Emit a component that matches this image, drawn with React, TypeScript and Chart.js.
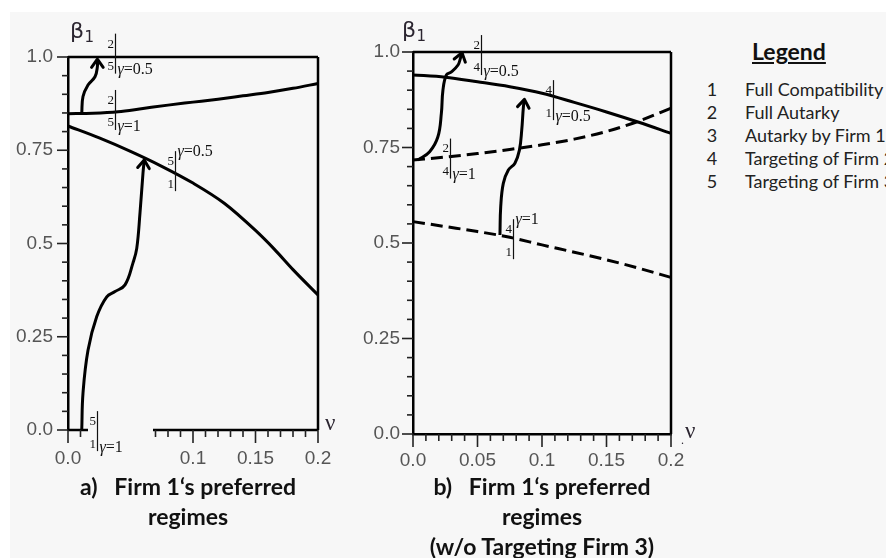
import React, { useEffect, useRef } from "react";
import { Chart, registerables } from "chart.js";

Chart.register(...registerables);

// ---------------- Panel a: Firm 1's preferred regimes ----------------
const nuUpperA = [0, 0.02, 0.04, 0.06, 0.08, 0.1, 0.12, 0.14, 0.16, 0.18, 0.2];
const betaUpperA = [0.848, 0.849, 0.853, 0.862, 0.871, 0.879, 0.887, 0.896, 0.905, 0.916, 0.929];
const nuLowerA = [0, 0.025, 0.05, 0.075, 0.1, 0.125, 0.15, 0.165, 0.18, 0.2];
const betaLowerA = [0.815, 0.783, 0.747, 0.707, 0.662, 0.608, 0.535, 0.485, 0.43, 0.362];
const nuArrowSmallA = [0.011, 0.012, 0.016, 0.0216, 0.0235, 0.0235];
const betaArrowSmallA = [0.849, 0.894, 0.925, 0.947, 0.974, 0.994];
const nuArrowBigA = [0.011, 0.012, 0.016, 0.023, 0.031, 0.0376, 0.0456, 0.052, 0.055, 0.0576, 0.06, 0.061];
const betaArrowBigA = [0, 0.099, 0.214, 0.304, 0.357, 0.371, 0.389, 0.448, 0.487, 0.582, 0.689, 0.724];
const nuAxisLeftA = [0, 0.016];
const nuAxisRightA = [0.068, 0.2];
const xGapA = [0.016, 0.068];

// ---------------- Panel b: w/o targeting firm 3 ----------------
const nuSolidB = [0, 0.025, 0.05, 0.075, 0.1, 0.125, 0.15, 0.175, 0.2];
const betaSolidB = [0.94, 0.934, 0.922, 0.909, 0.892, 0.868, 0.843, 0.816, 0.787];
const nuDashUpperB = [0, 0.025, 0.05, 0.075, 0.1, 0.125, 0.15, 0.175, 0.2];
const betaDashUpperB = [0.717, 0.725, 0.734, 0.745, 0.757, 0.772, 0.792, 0.819, 0.853];
const nuDashLowerB = [0, 0.025, 0.05, 0.075, 0.1, 0.125, 0.15, 0.175, 0.2];
const betaDashLowerB = [0.556, 0.543, 0.53, 0.515, 0.495, 0.476, 0.456, 0.434, 0.41];
const nuArrow1B = [0.0037, 0.0129, 0.0193, 0.022, 0.0232, 0.0259, 0.0298, 0.0349, 0.0368, 0.038];
const betaArrow1B = [0.717, 0.739, 0.778, 0.84, 0.9, 0.94, 0.948, 0.966, 0.984, 0.998];
const nuArrow2B = [0.0674, 0.068, 0.07, 0.0739, 0.079, 0.0825, 0.0843, 0.0856, 0.0864];
const betaArrow2B = [0.521, 0.595, 0.656, 0.691, 0.709, 0.743, 0.796, 0.857, 0.876];

// ---------------- frame ----------------
const nuFrameTop = [0, 0.2];
const betaFrameTop = [1, 1];
const nuFrameRight = [0.2, 0.2];
const betaFrameRight = [0, 1];

// ---------------- ticks ----------------
const xTickValuesA = [0, 0.1, 0.15, 0.2];
const xTickLabelsA = ["0.0", "0.1", "0.15", "0.2"];
const xTickValuesB = [0, 0.05, 0.1, 0.15, 0.2];
const xTickLabelsB = ["0.0", "0.05", "0.1", "0.15", "0.2"];
const xMajorValues = [0, 0.05, 0.1, 0.15, 0.2];
const yTickValues = [0, 0.25, 0.5, 0.75, 1];
const yTickLabels = ["0.0", "0.25", "0.5", "0.75", "1.0"];

// ---------------- regime boundary labels ----------------
type RegimeLabel = { nu: number; beta: number; top: string; bottom: string; gamma: string; pos: "sub" | "sup" };
const regimeLabelsA: RegimeLabel[] = [
  { nu: 0.0376, beta: 1.009, top: "2", bottom: "5", gamma: "0.5", pos: "sub" },
  { nu: 0.0376, beta: 0.858, top: "2", bottom: "5", gamma: "1", pos: "sub" },
  { nu: 0.0856, beta: 0.694, top: "5", bottom: "1", gamma: "0.5", pos: "sup" },
  { nu: 0.023, beta: -0.003, top: "5", bottom: "1", gamma: "1", pos: "sub" },
];
const regimeLabelsB: RegimeLabel[] = [
  { nu: 0.053, beta: 0.992, top: "2", bottom: "4", gamma: "0.5", pos: "sub" },
  { nu: 0.1085, beta: 0.874, top: "4", bottom: "1", gamma: "0.5", pos: "sub" },
  { nu: 0.029, beta: 0.721, top: "2", bottom: "4", gamma: "1", pos: "sub" },
  { nu: 0.0776, beta: 0.51, top: "4", bottom: "1", gamma: "1", pos: "sup" },
];

// ---------------- legend / titles ----------------
const legendTitle = "Legend";
const legendNumbers = ["1", "2", "3", "4", "5"];
const legendNames = ["Full Compatibility", "Full Autarky", "Autarky by Firm 1", "Targeting of Firm 2", "Targeting of Firm 3"];
const titleA = ["a)   Firm 1\u2018s preferred", "regimes"];
const titleB = ["b)   Firm 1\u2018s preferred", "regimes", "(w/o Targeting Firm 3)"];

function pts(xs: number[], ys: number[]) {
  return xs.map((x, i) => ({ x, y: ys[i] }));
}
function findLabel(v: number, vals: number[], labels: string[]) {
  const i = vals.findIndex((t) => Math.abs(t - v) < 1e-6);
  return i >= 0 ? labels[i] : "";
}
function line(data: any, extra: any = {}) {
  return {
    data,
    borderColor: "#000",
    borderWidth: 3,
    pointRadius: 0,
    fill: false,
    clip: false,
    tension: 0,
    ...extra,
  };
}

type OverlaySettings = {
  gap?: number[];
  labels: RegimeLabel[];
  beta: [number, number];
  nu: [number, number];
  dot?: [number, number];
};

function makeOverlay(s: OverlaySettings) {
  return {
    id: "overlay",
    afterDatasetsDraw(chart: any) {
      const ctx = chart.ctx;
      chart.data.datasets.forEach((ds: any, i: number) => {
        if (!ds.arrowHead) return;
        const p = chart.getDatasetMeta(i).data;
        const n = p.length;
        const tip = p[n - 1];
        const prev = p[n - 2];
        const ang = Math.atan2(tip.y - prev.y, tip.x - prev.x);
        const L = 10;
        const spread = 0.62;
        ctx.save();
        ctx.strokeStyle = "#000";
        ctx.lineWidth = 3;
        ctx.lineCap = "round";
        ctx.lineJoin = "round";
        ctx.beginPath();
        ctx.moveTo(tip.x - L * Math.cos(ang - spread), tip.y - L * Math.sin(ang - spread));
        ctx.lineTo(tip.x, tip.y);
        ctx.lineTo(tip.x - L * Math.cos(ang + spread), tip.y - L * Math.sin(ang + spread));
        ctx.stroke();
        ctx.restore();
      });
    },
    afterDraw(chart: any) {
      const ctx = chart.ctx;
      const area = chart.chartArea;
      const xs = chart.scales.x;
      const ys = chart.scales.y;
      ctx.save();
      // tick marks
      ctx.strokeStyle = "#222";
      ctx.lineWidth = 1.6;
      xs.ticks.forEach((t: any) => {
        const v = t.value;
        if (s.gap && v > s.gap[0] + 1e-9 && v < s.gap[1] - 1e-9) return;
        const major = xMajorValues.some((m) => Math.abs(m - v) < 1e-6);
        const px = xs.getPixelForValue(v);
        ctx.beginPath();
        ctx.moveTo(px, area.bottom);
        ctx.lineTo(px, area.bottom + (major ? 13 : 7));
        ctx.stroke();
      });
      ys.ticks.forEach((t: any) => {
        const v = t.value;
        const major = yTickValues.some((m) => Math.abs(m - v) < 1e-6);
        const py = ys.getPixelForValue(v);
        ctx.beginPath();
        ctx.moveTo(area.left, py);
        ctx.lineTo(area.left - (major ? 11 : 6), py);
        ctx.stroke();
      });
      // regime boundary labels
      s.labels.forEach((r) => {
        const x = Math.round(xs.getPixelForValue(r.nu)) + 0.5;
        const y = ys.getPixelForValue(r.beta);
        ctx.strokeStyle = "#111";
        ctx.lineWidth = 1.2;
        ctx.beginPath();
        ctx.moveTo(x, y - 20);
        ctx.lineTo(x, y + 20);
        ctx.stroke();
        ctx.fillStyle = "#111";
        ctx.font = "13px 'Liberation Serif'";
        ctx.textAlign = "right";
        ctx.textBaseline = "middle";
        ctx.fillText(r.top, x - 1.5, y - 9.5);
        ctx.fillText(r.bottom, x - 1.5, y + 13);
        const gy = r.pos === "sub" ? y + 16.5 : y - 19;
        ctx.textAlign = "left";
        ctx.font = "italic 16px 'Liberation Serif'";
        ctx.fillText("\u03b3", x + 2, gy);
        const w = ctx.measureText("\u03b3").width;
        ctx.font = "16px 'Liberation Serif'";
        ctx.fillText("=" + r.gamma, x + 2 + w, gy);
      });
      // axis titles
      ctx.fillStyle = "#2b2530";
      ctx.textAlign = "left";
      ctx.textBaseline = "alphabetic";
      ctx.font = "22px 'DejaVu Sans'";
      ctx.fillText("\u03b2", s.beta[0], s.beta[1]);
      const bw = ctx.measureText("\u03b2").width;
      ctx.font = "15px 'DejaVu Sans'";
      ctx.fillText("1", s.beta[0] + bw + 0.5, s.beta[1] + 4);
      ctx.font = "23px 'Liberation Serif'";
      ctx.fillText("\u03bd", s.nu[0], s.nu[1]);
      if (s.dot) {
        ctx.font = "12px 'Liberation Serif'";
        ctx.fillText(".", s.dot[0], s.dot[1]);
      }
      ctx.restore();
    },
  };
}

function makeConfig(p: any) {
  return {
    type: "line",
    data: { datasets: p.datasets },
    plugins: [makeOverlay(p.overlay)],
    options: {
      animation: false,
      responsive: false,
      events: [],
      layout: { padding: p.padding },
      plugins: { legend: { display: false }, tooltip: { enabled: false }, title: { display: false } },
      scales: {
        x: {
          type: "linear",
          min: 0,
          max: 0.2,
          position: "bottom",
          grid: { display: false, drawTicks: false },
          border: { display: p.xBorder, color: "#000", width: 2.5 },
          ticks: {
            stepSize: 0.01,
            autoSkip: false,
            maxRotation: 0,
            minRotation: 0,
            padding: p.xPad,
            color: "#555",
            font: { family: "'Liberation Sans'", size: 19 },
            callback: (v: number) => findLabel(v, p.xVals, p.xLabels),
          },
          afterFit: (sc: any) => {
            sc.height = 40;
          },
        },
        y: {
          type: "linear",
          min: 0,
          max: 1,
          position: "left",
          grid: { display: false, drawTicks: false },
          border: { display: true, color: "#000", width: 2.5 },
          ticks: {
            stepSize: 0.05,
            autoSkip: false,
            padding: p.yPad,
            color: "#555",
            font: { family: "'Liberation Sans'", size: 19 },
            callback: (v: number) => findLabel(v, yTickValues, yTickLabels),
          },
          afterFit: (sc: any) => {
            sc.width = p.yWidth;
          },
        },
      },
    },
  };
}

const dash = [12, 6];

export default function App() {
  const refA = useRef<HTMLCanvasElement>(null);
  const refB = useRef<HTMLCanvasElement>(null);

  useEffect(() => {
    const cfgA = makeConfig({
      datasets: [
        line(pts(nuUpperA, betaUpperA), { cubicInterpolationMode: "monotone" }),
        line(pts(nuLowerA, betaLowerA), { cubicInterpolationMode: "monotone" }),
        line(pts(nuArrowSmallA, betaArrowSmallA), { tension: 0.4, arrowHead: true }),
        line(pts(nuArrowBigA, betaArrowBigA), { tension: 0.4, arrowHead: true }),
        line(pts(nuFrameTop, betaFrameTop), { borderWidth: 2.5 }),
        line(pts(nuFrameRight, betaFrameRight), { borderWidth: 2.5 }),
        line(pts(nuAxisLeftA, [0, 0]), { borderWidth: 2.5 }),
        line(pts(nuAxisRightA, [0, 0]), { borderWidth: 2.5 }),
      ],
      overlay: { gap: xGapA, labels: regimeLabelsA, beta: [70, 38], nu: [325, 430] },
      padding: { left: 8, top: 57, right: 42, bottom: 10 },
      xBorder: false,
      xVals: xTickValuesA,
      xLabels: xTickLabelsA,
      xPad: 17,
      yPad: 15,
      yWidth: 60,
    });
    const cfgB = makeConfig({
      datasets: [
        line(pts(nuSolidB, betaSolidB), { cubicInterpolationMode: "monotone" }),
        line(pts(nuDashUpperB, betaDashUpperB), { cubicInterpolationMode: "monotone", borderDash: dash }),
        line(pts(nuDashLowerB, betaDashLowerB), { cubicInterpolationMode: "monotone", borderDash: dash }),
        line(pts(nuArrow1B, betaArrow1B), { tension: 0.4, arrowHead: true }),
        line(pts(nuArrow2B, betaArrow2B), { tension: 0.4, arrowHead: true }),
        line(pts(nuFrameTop, betaFrameTop), { borderWidth: 2.5 }),
        line(pts(nuFrameRight, betaFrameRight), { borderWidth: 2.5 }),
      ],
      overlay: { labels: regimeLabelsB, beta: [62, 37], nu: [345, 438], dot: [341, 444] },
      padding: { left: 8, top: 52, right: 29, bottom: 6 },
      xBorder: true,
      xVals: xTickValuesB,
      xLabels: xTickLabelsB,
      xPad: 15,
      yPad: 13,
      yWidth: 65,
    });
    const a = new Chart(refA.current as HTMLCanvasElement, cfgA as any);
    const b = new Chart(refB.current as HTMLCanvasElement, cfgB as any);
    return () => {
      a.destroy();
      b.destroy();
    };
  }, []);

  const titleStyle: React.CSSProperties = {
    position: "absolute",
    width: 340,
    textAlign: "center",
    fontFamily: "Lato, 'Open Sans', sans-serif",
    fontWeight: 700,
    fontSize: 23,
    lineHeight: "30px",
    color: "#111",
    whiteSpace: "pre",
  };

  return (
    <div
      style={{
        position: "fixed",
        left: 0,
        top: 0,
        width: 886,
        height: 558,
        background: "#fff",
        overflow: "hidden",
      }}
    >
      <div style={{ position: "absolute", left: 10, top: 12, width: 876, height: 546, background: "#f7f7f7" }} />
      <canvas ref={refA} width={360} height={480} style={{ position: "absolute", left: 0, top: 0 }} />
      <canvas ref={refB} width={360} height={480} style={{ position: "absolute", left: 340, top: 0 }} />
      <div style={{ ...titleStyle, left: 188 - 170, top: 471 }}>
        {titleA.map((t, i) => (
          <div key={i}>{t}</div>
        ))}
      </div>
      <div style={{ ...titleStyle, left: 542 - 170, top: 471 }}>
        {titleB.map((t, i) => (
          <div key={i}>{t}</div>
        ))}
      </div>
      <div
        style={{
          position: "absolute",
          left: 752,
          top: 37,
          fontFamily: "Lato, sans-serif",
          fontWeight: 700,
          fontSize: 23,
          lineHeight: "28px",
          textDecoration: "underline",
          color: "#111",
        }}
      >
        {legendTitle}
      </div>
      {legendNames.map((name, i) => (
        <div
          key={i}
          style={{
            position: "absolute",
            left: 700,
            top: 78 + i * 22.9,
            fontFamily: "Lato, sans-serif",
            fontSize: 18,
            lineHeight: "23px",
            color: "#222",
            whiteSpace: "nowrap",
          }}
        >
          <span style={{ display: "inline-block", width: 24, textAlign: "center" }}>{legendNumbers[i]}</span>
          <span style={{ position: "absolute", left: 45 }}>{name}</span>
        </div>
      ))}
    </div>
  );
}
